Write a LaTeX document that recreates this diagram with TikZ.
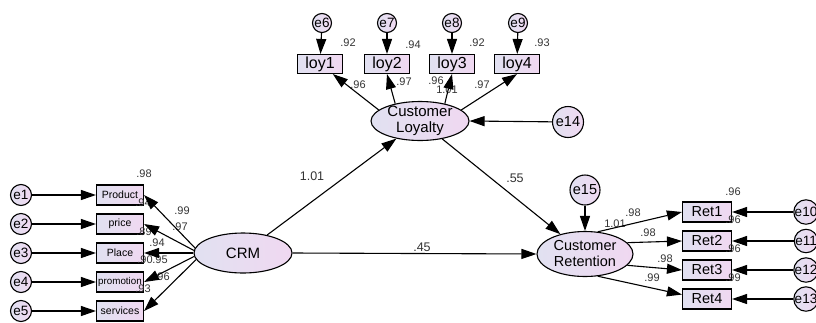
\documentclass[tikz,border=0pt]{standalone}
\usepackage{fontspec}
\setmainfont{Liberation Sans}
\usetikzlibrary{arrows.meta,shapes.geometric}
\definecolor{semL}{HTML}{E1E1F1}
\definecolor{semR}{HTML}{F0D8F1}
\newcommand{\semfont}[1]{\fontsize{#1}{#1}\selectfont}
\tikzset{obs/.style={draw,line width=1.1pt,left color=semL,right color=semR,minimum width=47pt,minimum height=20pt,inner sep=0pt,font=\semfont{10.5}},
  lat/.style={ellipse,draw,line width=1.1pt,left color=semL,right color=semR,inner sep=0pt},
  err/.style={circle,draw,line width=1.1pt,left color=semL,right color=semR,inner sep=0pt,minimum size=21pt,font=\semfont{13.5}},
  reg/.style={-{Triangle[length=15pt,width=10pt]},line width=1.1pt},
  est/.style={inner sep=0pt,text=black!80,font=\semfont{11}},
  coef/.style={est,font=\semfont{12.5}}}

\begin{document}
\begin{tikzpicture}[x=1pt,y=-1pt]
\useasboundingbox (0,0) rectangle (816,322);
% latent variables
\node[lat,minimum width=98pt,minimum height=40pt,font=\semfont{15}] (crm) at (243,253) {CRM};
\node[lat,minimum width=98pt,minimum height=39pt,
  label={[align=center,font=\fontsize{15}{16.5}\selectfont]center:Customer\\Loyalty}] (loyalty) at (420,121) {};
\node[lat,minimum width=96pt,minimum height=45pt,
  label={[align=center,font=\fontsize{14.5}{16}\selectfont]center:Customer\\Retention}] (retention) at (585,254) {};
% CRM indicators
\node[obs] (product) at (120,195) {Product};
\node[obs] (price) at (120,224) {price};
\node[obs] (place) at (120,253) {Place};
\node[obs,font=\semfont{9.8}] (promotion) at (120,282) {promotion};
\node[obs] (services) at (120,311) {services};
\node[err] (e1) at (21,195) {e1};
\node[err] (e2) at (21,224) {e2};
\node[err] (e3) at (21,253) {e3};
\node[err] (e4) at (21,282) {e4};
\node[err] (e5) at (21,311) {e5};
% loyalty indicators
\node[obs,minimum width=45pt,minimum height=19pt,font=\semfont{16}] (loy1) at (320,64) {loy1};
\node[obs,minimum width=45pt,minimum height=19pt,font=\semfont{16}] (loy2) at (387,64) {loy2};
\node[obs,minimum width=45pt,minimum height=19pt,font=\semfont{16}] (loy3) at (452,64) {loy3};
\node[obs,minimum width=45pt,minimum height=19pt,font=\semfont{16}] (loy4) at (517,64) {loy4};
\node[err,minimum size=19pt] (e6) at (322,23) {e6};
\node[err,minimum size=19pt] (e7) at (387,23) {e7};
\node[err,minimum size=19pt] (e8) at (452,23) {e8};
\node[err,minimum size=19pt] (e9) at (518,23) {e9};
\node[err,minimum size=31pt,font=\semfont{14.5}] (e14) at (568,122) {e14};
% retention indicators
\node[obs,minimum width=49pt,font=\semfont{14.5}] (ret1) at (707,212) {Ret1};
\node[obs,minimum width=49pt,font=\semfont{14.5}] (ret2) at (707,241) {Ret2};
\node[obs,minimum width=49pt,font=\semfont{14.5}] (ret3) at (707,270) {Ret3};
\node[obs,minimum width=49pt,font=\semfont{14.5}] (ret4) at (707,299) {Ret4};
\node[err] (e10) at (806,212) {e10};
\node[err] (e11) at (806,241) {e11};
\node[err] (e12) at (806,270) {e12};
\node[err] (e13) at (806,299) {e13};
\node[err,minimum size=30pt,font=\semfont{14.5}] (e15) at (585,190) {e15};

% estimates
\node[est] (w1) at (144,174) {.98};
\node[est] (w2) at (143,203) {.94};
\node[est] (w3) at (182,211) {.99};
\node[est] (w4) at (180,227) {.97};
\node[est] (w5) at (144,232) {.89};
\node[est] (w6) at (157,243) {.94};
\node[est] (w7) at (145,260) {.90};
\node[est] (w8) at (160,260) {.95};
\node[est] (w9) at (162,277) {.96};
\node[est] (w10) at (143,289) {.93};
\node[est] (w11) at (348,43) {.92};
\node[est] (w12) at (413,45) {.94};
\node[est] (w13) at (477,43) {.92};
\node[est] (w14) at (542,43) {.93};
\node[est] (w15) at (358,85) {.96};
\node[est] (w16) at (404,82) {.97};
\node[est] (w17) at (436,81) {.96};
\node[est] (w18) at (447,90) {1.01};
\node[est] (w19) at (482,85) {.97};
\node[est] (w20) at (733,192) {.96};
\node[est] (w21) at (733,220) {.96};
\node[est] (w22) at (733,249) {.96};
\node[est] (w23) at (733,278) {.99};
\node[est] (w24) at (615,224) {1.01};
\node[est] (w25) at (633,213) {.98};
\node[est] (w26) at (648,233) {.98};
\node[est] (w27) at (665,259) {.98};
\node[est] (w28) at (652,278) {.99};
\node[coef] (b1) at (312,176) {1.01};
\node[coef] (b2) at (515,178) {.55};
\node[coef] (b3) at (422,247) {.45};

% paths
\draw[reg] (e1) -- (product);
\draw[reg] (e2) -- (price);
\draw[reg] (e3) -- (place);
\draw[reg] (e4) -- (promotion);
\draw[reg] (e5) -- (services);
\draw[reg] (crm.174) -- (product.east);
\draw[reg] (crm.177) -- (price.east);
\draw[reg] (crm.west) -- (place.east);
\draw[reg] (crm.184) -- (promotion.east);
\draw[reg] (crm.188) -- (services.east);
\draw[reg] (e6) -- (loy1);
\draw[reg] (e7) -- (loy2);
\draw[reg] (e8) -- (loy3);
\draw[reg] (e9) -- (loy4);
\draw[reg] (loyalty.165) -- (loy1);
\draw[reg] (loyalty.145) -- (loy2.south);
\draw[reg] (loyalty.35) -- (loy3.south);
\draw[reg] (loyalty.15) -- (loy4.south);
\draw[reg] (e14) -- (loyalty.east);
\draw[reg] (crm) -- (loyalty);
\draw[reg] (loyalty) -- (retention);
\draw[reg] (crm.east) -- (retention.west);
\draw[reg] (e15) -- (retention);
\draw[reg] (retention.60) -- (ret1.west);
\draw[reg] (retention.15) -- (ret2.west);
\draw[reg] (retention.-15) -- (ret3.west);
\draw[reg] (retention.-60) -- (ret4.170);
\draw[reg] (e10) -- (ret1);
\draw[reg] (e11) -- (ret2);
\draw[reg] (e12) -- (ret3);
\draw[reg] (e13) -- (ret4);
\end{tikzpicture}
\end{document}
